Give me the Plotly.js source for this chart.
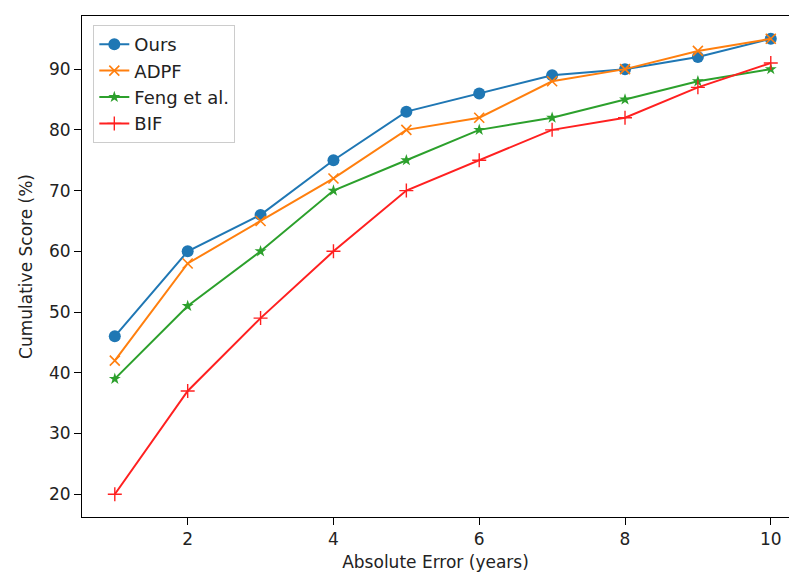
<!DOCTYPE html>
<html>
<head>
<meta charset="utf-8">
<script src="https://cdn.plot.ly/plotly-3.0.1.min.js"></script>
<style>html,body{margin:0;padding:0;background:#fff;}#chart{width:790px;height:572px;}</style>
</head>
<body>
<div id="chart"></div>
<script>
const errors = [1, 2, 3, 4, 5, 6, 7, 8, 9, 10];
const ours = [46, 60, 66, 75, 83, 86, 89, 90, 92, 95];
const adpf = [42, 58, 65, 72, 80, 82, 88, 90, 93, 95];
const feng = [39, 51, 60, 70, 75, 80, 82, 85, 88, 90];
const bif  = [20, 37, 49, 60, 70, 75, 80, 82, 87, 91];
const seriesNames = ['Ours', 'ADPF', 'Feng et al.', 'BIF'];

const traces = [
  {x: errors, y: ours, name: seriesNames[0], mode: 'lines+markers',
   line: {color: '#1f77b4', width: 2}, marker: {symbol: 'circle', size: 12, color: '#1f77b4'}},
  {x: errors, y: adpf, name: seriesNames[1], mode: 'lines+markers',
   line: {color: '#ff7f0e', width: 2}, marker: {symbol: 'x-thin', size: 10, line: {color: '#ff7f0e', width: 1.6}}},
  {x: errors, y: feng, name: seriesNames[2], mode: 'lines+markers',
   line: {color: '#2ca02c', width: 2}, marker: {symbol: 'star', size: 9, color: '#2ca02c'}},
  {x: errors, y: bif, name: seriesNames[3], mode: 'lines+markers',
   line: {color: '#ff2020', width: 2}, marker: {symbol: 'cross-thin', size: 10, line: {color: '#ff2020', width: 1.4}}}
];

const layout = {
  width: 790, height: 572,
  margin: {l: 82, r: 1, t: 16, b: 55},
  paper_bgcolor: '#fff', plot_bgcolor: '#fff',
  font: {family: 'DejaVu Sans, sans-serif', size: 17, color: '#222'},
  showlegend: true,
  legend: {x: 0.016, y: 0.982, xanchor: 'left', yanchor: 'top',
           bgcolor: 'rgba(255,255,255,0.9)', bordercolor: '#cccccc', borderwidth: 1,
           font: {size: 18}},
  xaxis: {range: [0.55, 10.25], tickvals: [2, 4, 6, 8, 10], showgrid: false, zeroline: false,
          showline: true, linecolor: '#000', linewidth: 1, mirror: true,
          ticks: 'outside', ticklen: 7, tickcolor: '#000',
          title: {text: 'Absolute Error (years)', font: {size: 17}, standoff: 12}},
  yaxis: {range: [16.25, 98.75], tickvals: [20, 30, 40, 50, 60, 70, 80, 90], showgrid: false, zeroline: false,
          showline: true, linecolor: '#000', linewidth: 1,
          ticks: 'outside', ticklen: 7, tickcolor: '#000',
          title: {text: 'Cumulative Score (%)', font: {size: 17}, standoff: 12}}
};

Plotly.newPlot('chart', traces, layout, {displayModeBar: false, staticPlot: true});
</script>
</body>
</html>
